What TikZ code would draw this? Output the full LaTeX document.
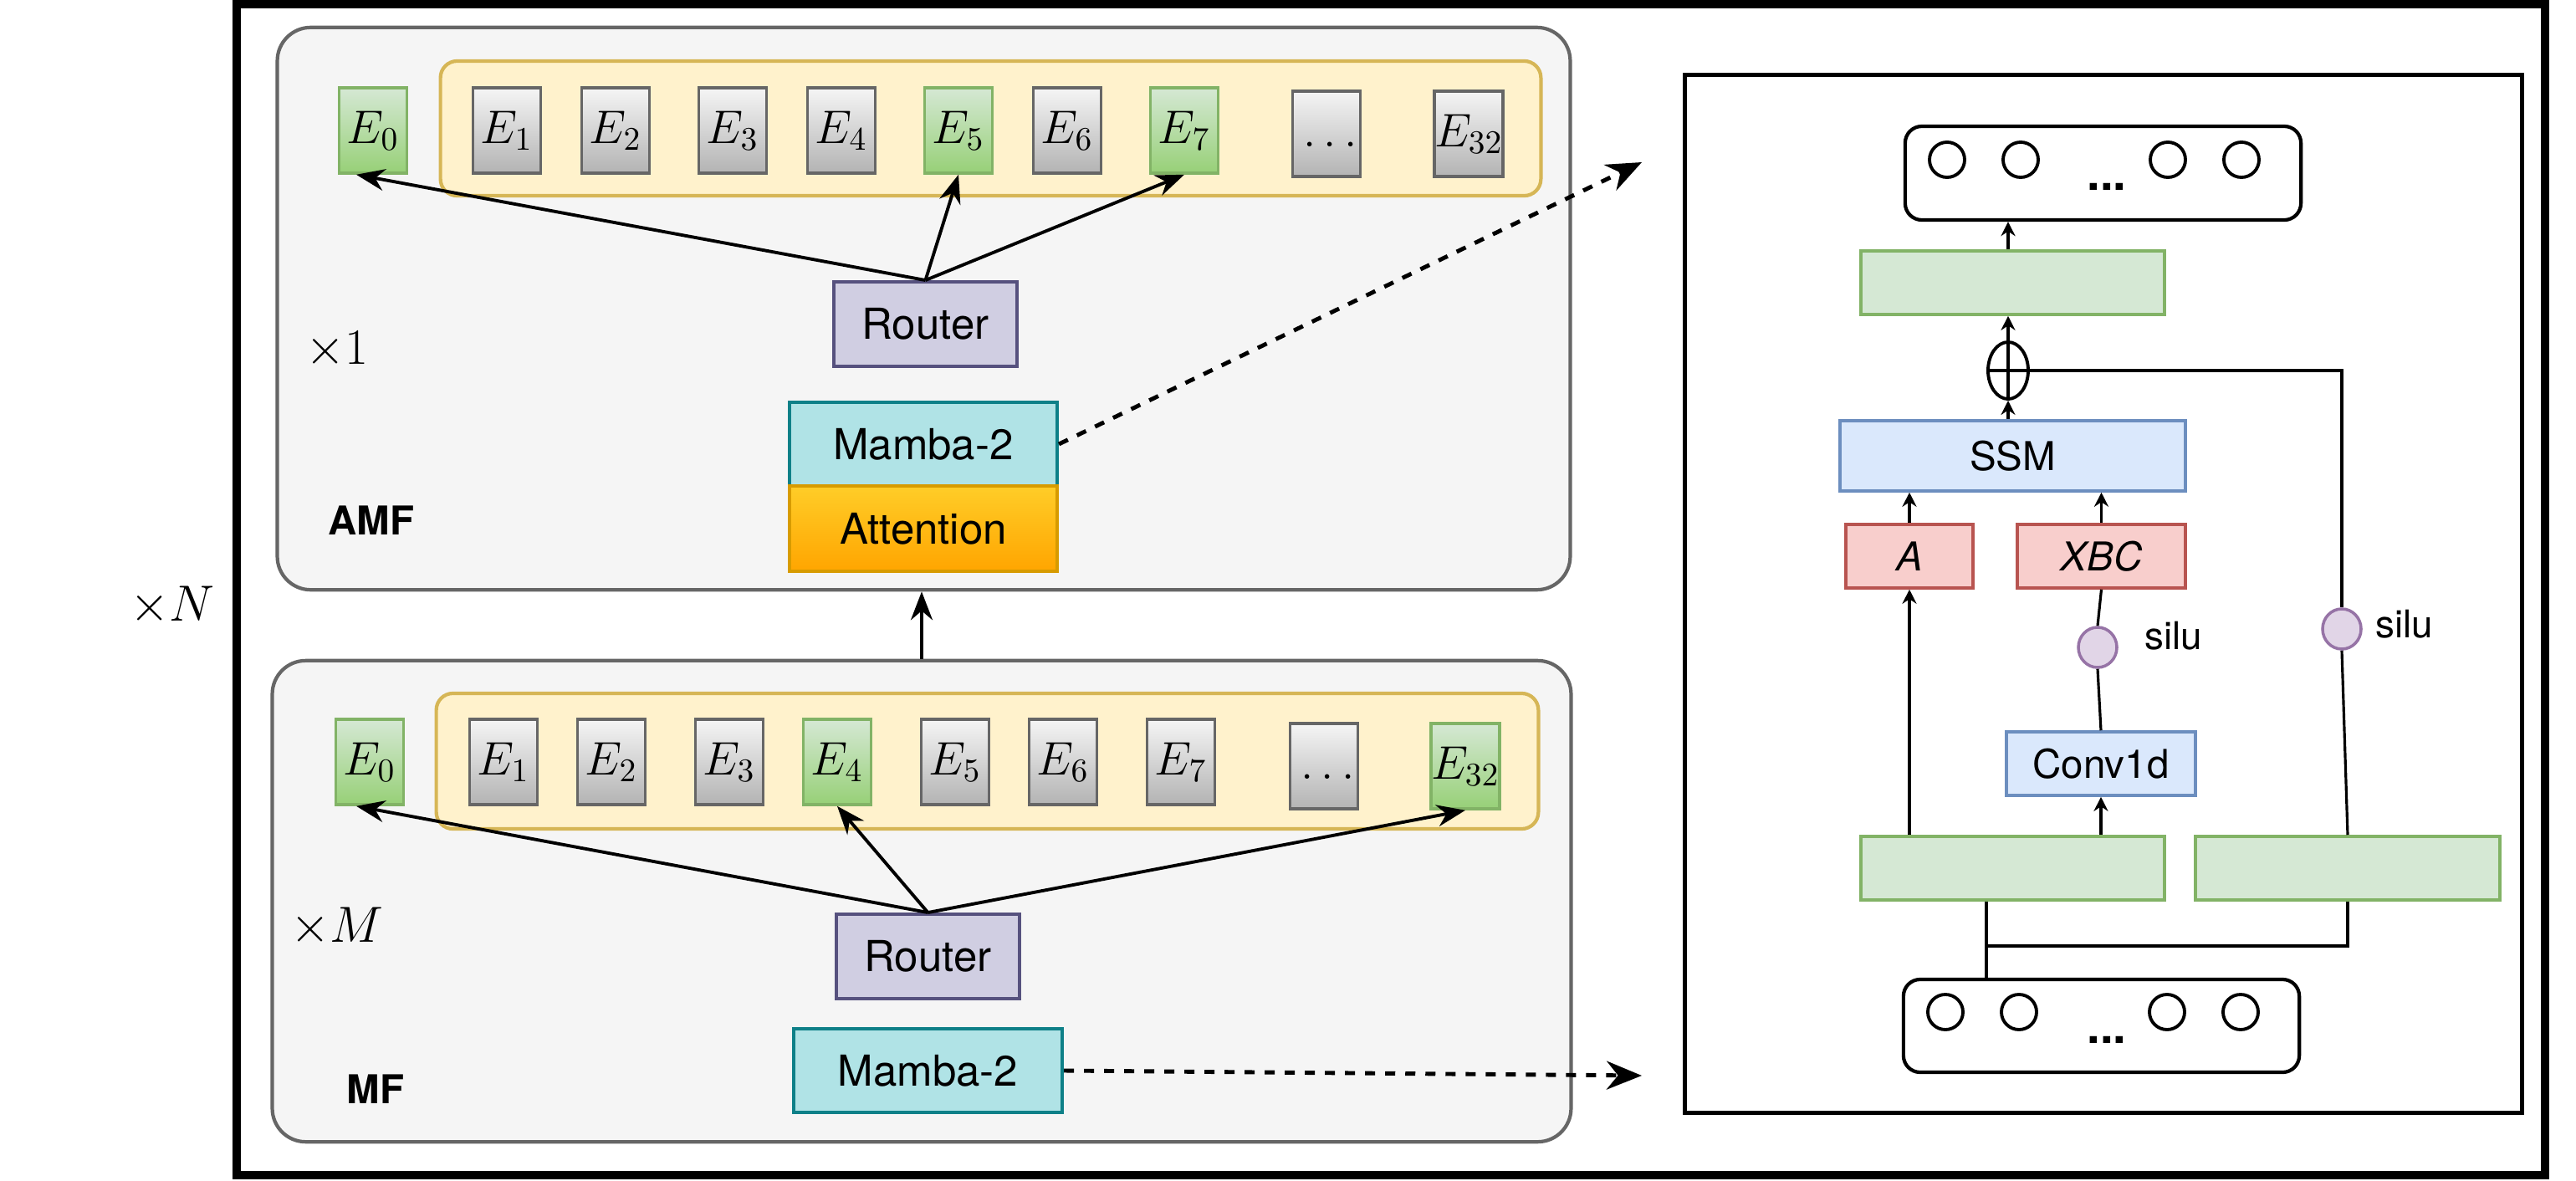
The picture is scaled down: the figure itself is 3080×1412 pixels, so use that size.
\RequirePackage{fix-cm}
\documentclass[tikz,border=0pt]{standalone}
\usepackage{fontspec}
\setsansfont{TeX Gyre Heros}
\usepackage{tikz}
\usetikzlibrary{arrows.meta}
\usetikzlibrary{shapes.geometric}

\definecolor{contf}{HTML}{F5F5F5}
\definecolor{contd}{HTML}{666666}
\definecolor{grpf}{HTML}{FFF2CC}
\definecolor{grpd}{HTML}{D6B656}
\definecolor{greenf}{HTML}{D5E8D4}
\definecolor{greenb}{HTML}{97D077}
\definecolor{greend}{HTML}{82B366}
\definecolor{grayb}{HTML}{B3B3B3}
\definecolor{routf}{HTML}{D0CEE2}
\definecolor{routd}{HTML}{56517E}
\definecolor{mambf}{HTML}{B0E3E6}
\definecolor{mambd}{HTML}{0E8088}
\definecolor{attt}{HTML}{FFCD28}
\definecolor{attb}{HTML}{FFA500}
\definecolor{attd}{HTML}{D79B00}
\definecolor{bluef}{HTML}{DAE8FC}
\definecolor{blued}{HTML}{6C8EBF}
\definecolor{redf}{HTML}{F8CECC}
\definecolor{redd}{HTML}{B85450}
\definecolor{siluf}{HTML}{E1D5E7}
\definecolor{silud}{HTML}{9673A6}

\tikzset{
  cont/.style={draw=contd, fill=contf, line width=1.2pt, rounded corners=0.4cm, inner sep=0pt},
  grp/.style={draw=grpd, fill=grpf, line width=1.2pt, rounded corners=0.2cm, inner sep=0pt},
  expg/.style={draw=greend, top color=greenf, bottom color=greenb, line width=1pt,
    minimum width=0.81cm, minimum height=1.02cm, inner sep=0pt, font=\fontsize{16}{18}\selectfont},
  expn/.style={expg, draw=contd, top color=contf, bottom color=grayb},
  lbl/.style={font=\sffamily\fontsize{14.5}{17}\selectfont},
  blk/.style={lbl, draw, line width=1.1pt, inner sep=0pt},
  small/.style={draw, line width=1pt, inner sep=0pt, font=\sffamily\fontsize{13.5}{16}\selectfont},
  dot/.style={circle, draw, line width=1.1pt, minimum size=0.42cm, inner sep=0pt},
  silu/.style={ellipse, draw=silud, fill=siluf, line width=1pt, minimum width=0.46cm, minimum height=0.48cm, inner sep=0pt},
  arr/.style={-{Stealth[length=0.34cm, width=0.26cm]}, line width=1.1pt},
  arrs/.style={-{Stealth[length=0.17cm, width=0.17cm]}, line width=0.9pt},
  dsh/.style={-{Stealth[length=0.42cm, width=0.34cm]}, line width=1.4pt, dash pattern=on 0.12cm off 0.12cm}
}

\begin{document}
\begin{tikzpicture}[x=0.01cm,y=-0.01cm]
\useasboundingbox (0,0) rectangle (3080,1412);

\draw[line width=3.1pt] (283,5) rectangle (3043,1405);
\node (xn) at (206,724) {\fontsize{17.28}{20}\selectfont $\times N$};

% AMF block
\node[cont, minimum width=15.45cm, minimum height=6.72cm] (amf) at (1104.5,369) {};
\node[grp, minimum width=13.15cm, minimum height=1.61cm] (grpa) at (1184.5,153.5) {};

\node[expg] (ea0) at (446,156) {$E_0$};
\node[expn] (ea1) at (606,156) {$E_1$};
\node[expn] (ea2) at (736,156) {$E_2$};
\node[expn] (ea3) at (876,156) {$E_3$};
\node[expn] (ea4) at (1006,156) {$E_4$};
\node[expg] (ea5) at (1146,156) {$E_5$};
\node[expn] (ea6) at (1276,156) {$E_6$};
\node[expg] (ea7) at (1416,156) {$E_7$};
\node[expn] (eadots) at (1586,160) {$\vphantom{E_0}\ldots$};
\node[expn] (ea32) at (1756,160) {$E_{32}$};

\node[blk, draw=routd, fill=routf, minimum width=2.19cm, minimum height=1.01cm] (ra) at (1106.5,387.5) {Router};
\node[blk, draw=mambd, fill=mambf, minimum width=3.2cm, minimum height=1.0cm] (mba) at (1104,531) {Mamba-2};
\node[blk, draw=attd, top color=attt, bottom color=attb, minimum width=3.2cm, minimum height=1.02cm] (att) at (1104,632) {Attention};

\node (x1) at (403,418) {\fontsize{17.28}{20}\selectfont $\times 1$};
\node[font=\sffamily\bfseries\fontsize{13.5}{16}\selectfont] (amflbl) at (444,622) {AMF};

\draw[arr] (ra.north) -- ([xshift=-0.2cm]ea0.south);
\draw[arr] (ra.north) -- (ea5.south);
\draw[arr] (ra.north) -- (ea7.south);

% MF block
\node[cont, minimum width=15.52cm, minimum height=5.75cm] (mf) at (1102,1077.5) {};
\node[grp, minimum width=13.17cm, minimum height=1.62cm] (grpm) at (1180.5,910) {};

\node[expg] (em0) at (442,911) {$E_0$};
\node[expn] (em1) at (602,911) {$E_1$};
\node[expn] (em2) at (731,911) {$E_2$};
\node[expn] (em3) at (872,911) {$E_3$};
\node[expg] (em4) at (1001,911) {$E_4$};
\node[expn] (em5) at (1142,911) {$E_5$};
\node[expn] (em6) at (1271,911) {$E_6$};
\node[expn] (em7) at (1412,911) {$E_7$};
\node[expn] (emdots) at (1583,916) {$\vphantom{E_0}\ldots$};
\node[expg] (em32) at (1752,916) {$E_{32}$};

\node[blk, draw=routd, fill=routf, minimum width=2.19cm, minimum height=1.01cm] (rm) at (1109.5,1143.5) {Router};
\node[blk, draw=mambd, fill=mambf, minimum width=3.21cm, minimum height=1.0cm] (mbm) at (1109.5,1280) {Mamba-2};

\node (xm) at (403,1108) {\fontsize{17.28}{20}\selectfont $\times M$};
\node[font=\sffamily\bfseries\fontsize{13.5}{16}\selectfont] (mflbl) at (449,1302) {MF};

\draw[arr] (rm.north) -- ([xshift=-0.16cm]em0.south);
\draw[arr] (rm.north) -- (em4.south);
\draw[arr] (rm.north) -- (em32.south);

\draw[arr] (mf.north) -- (mf.north |- amf.south);

% links to the detail panel
\coordinate (tipa) at (1963,194);
\coordinate (tipm) at (1963,1286);
\draw[dsh] (mba.east) -- (tipa);
\draw[dsh] (mbm.east) -- (tipm);

% Mamba-2 detail
\node[draw, line width=1.3pt, minimum width=10cm, minimum height=12.4cm] (panel) at (2515,710) {};

\node[draw, line width=1.2pt, rounded corners=0.2cm, minimum width=4.73cm, minimum height=1.12cm] (out) at (2514.5,207) {};
\node[dot] (o1) at (2328,191) {};
\node[dot] (o2) at (2416,191) {};
\node[dot] (o3) at (2592,191) {};
\node[dot] (o4) at (2680,191) {};
\node[font=\sffamily\bfseries\fontsize{16}{18}\selectfont] (odots) at (2519,223) {...};

\node[small, draw=greend, fill=greenf, minimum width=3.63cm, minimum height=0.76cm] (gtop) at (2406.5,338) {};
\node[ellipse, draw, line width=1.1pt, minimum width=0.48cm, minimum height=0.68cm, inner sep=0pt] (plus) at (2401,443) {};
\draw[line width=1.1pt] (plus.north) -- (plus.south);
\draw[line width=1.1pt] (plus.west) -- (plus.east);

\node[small, draw=blued, fill=bluef, minimum width=4.13cm, minimum height=0.84cm] (ssm) at (2406.5,545) {SSM};
\node[small, draw=redd, fill=redf, minimum width=1.52cm, minimum height=0.76cm] (amat) at (2283,665) {\itshape A};
\node[small, draw=redd, fill=redf, minimum width=2.01cm, minimum height=0.76cm] (xbc) at (2512.5,665) {\itshape XBC};

\node[silu] (sa) at (2508,774) {};
\node[lbl, anchor=west, font=\sffamily\fontsize{13}{15}\selectfont] (sal) at (2552,760) {silu};
\node[silu] (sb) at (2800,752) {};
\node[lbl, anchor=west, font=\sffamily\fontsize{13}{15}\selectfont] (sbl) at (2828,746) {silu};

\node[small, draw=blued, fill=bluef, minimum width=2.26cm, minimum height=0.76cm] (conv) at (2512,913) {Conv1d};

\node[small, draw=greend, fill=greenf, minimum width=3.63cm, minimum height=0.76cm] (gl) at (2406.5,1038) {};
\node[small, draw=greend, fill=greenf, minimum width=3.64cm, minimum height=0.76cm] (gr) at (2807,1038) {};

\node[draw, line width=1.2pt, rounded corners=0.2cm, minimum width=4.73cm, minimum height=1.11cm] (inp) at (2512.5,1226.5) {};
\node[dot] (i1) at (2326,1210) {};
\node[dot] (i2) at (2414,1210) {};
\node[dot] (i3) at (2591,1210) {};
\node[dot] (i4) at (2679,1210) {};
\node[font=\sffamily\bfseries\fontsize{16}{18}\selectfont] (idots) at (2519,1243) {...};

\coordinate (split) at (2375,1131);
\draw[line width=0.9pt] (inp.north -| split) -- (gl.south -| split);
\draw[line width=0.9pt] (split) -| (gr.south);

\draw[arrs] (gl.north -| amat.south) -- (amat.south);
\draw[arrs] (gl.north -| conv.south) -- (conv.south);
\draw[line width=0.9pt] (conv.north) -- (sa.south);
\draw[line width=0.9pt] (sa.north) -- (xbc.south);
\draw[line width=0.9pt] (gr.north) -- (sb.south);
\draw[line width=0.9pt] (sb.north) |- (plus.east);

\draw[arrs] (amat.north) -- (amat.north |- ssm.south);
\draw[arrs] (xbc.north) -- (xbc.north |- ssm.south);
\draw[arrs] (ssm.north -| plus.south) -- (plus.south);
\draw[arrs] (plus.north) -- (plus.north |- gtop.south);
\draw[arrs] (gtop.north -| plus.north) -- (plus.north |- out.south);

\end{tikzpicture}
\end{document}
